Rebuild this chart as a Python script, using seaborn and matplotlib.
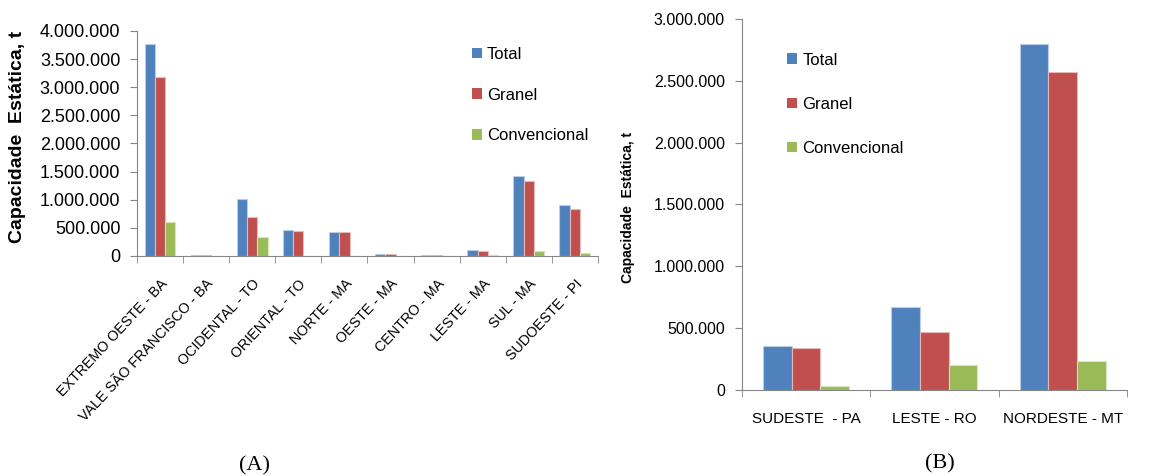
import matplotlib
matplotlib.use("Agg")
import matplotlib.pyplot as plt
import matplotlib.ticker as mticker
import seaborn as sns
import pandas as pd

# panel A data
regions_a = ["EXTREMO OESTE - BA", "VALE SÃO FRANCISCO - BA", "OCIDENTAL - TO",
             "ORIENTAL - TO", "NORTE - MA", "OESTE - MA", "CENTRO - MA",
             "LESTE - MA", "SUL - MA", "SUDOESTE - PI"]
total_a = [3760000, 12000, 1010000, 470000, 420000, 40000, 10000, 112000, 1420000, 910000]
granel_a = [3180000, 10000, 690000, 450000, 420000, 40000, 10000, 89000, 1330000, 830000]
conv_a = [610000, 5000, 340000, 8000, 6000, 5000, 5000, 10000, 95000, 62000]

# panel B data
regions_b = ["SUDESTE  - PA", "LESTE - RO", "NORDESTE - MT"]
total_b = [357000, 673000, 2800000]
granel_b = [335000, 465000, 2570000]
conv_b = [28000, 203000, 235000]

series = ["Total", "Granel", "Convencional"]
colors = ["#4F81BD", "#C0504D", "#9BBB59"]
edges = ["#B9CDE5", "#E6B9B8", "#D7E4BD"]


def to_long(regions, total, granel, conv):
    df = pd.DataFrame({"regiao": regions, "Total": total,
                       "Granel": granel, "Convencional": conv})
    return df.melt(id_vars="regiao", var_name="serie", value_name="cap")


def br_fmt(x, pos):
    return f"{x:,.0f}".replace(",", ".")


plt.rcParams["font.family"] = ["Liberation Sans", "DejaVu Sans"]

fig = plt.figure(figsize=(11.58, 4.76), dpi=100)
ax_a = fig.add_axes([0.1183, 0.4622, 0.3981, 0.4727])
ax_b = fig.add_axes([0.6405, 0.1813, 0.3327, 0.7782])

panels = [
    (ax_a, to_long(regions_a, total_a, granel_a, conv_a), regions_a, 4000000, 13),
    (ax_b, to_long(regions_b, total_b, granel_b, conv_b), regions_b, 3000000, 11.5),
]

for ax, df, regions, ymax, fs in panels:
    sns.barplot(data=df, x="regiao", y="cap", hue="serie", hue_order=series,
                order=regions, palette=colors, width=0.67, ax=ax,
                saturation=1, linewidth=0.8)
    # lighter outline like the original spreadsheet bars
    for cont, ec in zip(ax.containers, edges):
        for p in cont:
            p.set_edgecolor(ec)

    ax.set_ylim(0, ymax)
    ax.set_xlim(-0.5, len(regions) - 0.5)
    ax.yaxis.set_major_locator(mticker.MultipleLocator(500000))
    ax.yaxis.set_major_formatter(mticker.FuncFormatter(br_fmt))
    ax.set_xlabel("")
    ax.set_ylabel("")
    for s in ["top", "right"]:
        ax.spines[s].set_visible(False)
    for s in ["left", "bottom"]:
        ax.spines[s].set_color("#868686")
    ax.tick_params(axis="y", length=5, color="#868686", pad=7, labelsize=fs)
    ax.tick_params(axis="x", which="major", length=0)
    ax.set_xticks([i - 0.5 for i in range(len(regions) + 1)], minor=True)
    ax.tick_params(axis="x", which="minor", length=5, color="#868686")

ax_a.set_xticks(range(len(regions_a)))
ax_a.set_xticklabels(regions_a, rotation=47, ha="right", va="top",
                     rotation_mode="anchor", fontsize=10.3)
ax_a.tick_params(axis="x", which="major", pad=15)

ax_b.set_xticks(range(len(regions_b)))
ax_b.set_xticklabels(regions_b, fontsize=11)
ax_b.tick_params(axis="x", which="major", pad=16)

# legends
ax_a.legend(loc="upper left", bbox_to_anchor=(0.726, 0.93), frameon=False,
            fontsize=12, handlelength=0.6, handleheight=0.6, handletextpad=0.3,
            labelspacing=1.55, borderpad=0, borderaxespad=0)
ax_b.legend(loc="upper left", bbox_to_anchor=(0.118, 0.91), frameon=False,
            fontsize=12, handlelength=0.6, handleheight=0.6, handletextpad=0.3,
            labelspacing=1.75, borderpad=0, borderaxespad=0)

fig.text(18 / 1158, 1 - 137 / 476, "Capacidade  Estática, t", rotation=90,
         ha="center", va="center", fontsize=14, fontweight="bold")
fig.text(628 / 1158, 1 - 207 / 476, "Capacidade  Estática, t", rotation=90,
         ha="center", va="center", fontsize=10, fontweight="bold")

fig.text(255 / 1158, 1 - 466 / 476, "(A)", ha="center", va="center",
         fontsize=16, family=["Liberation Serif", "DejaVu Serif"])
fig.text(940 / 1158, 1 - 464 / 476, "(B)", ha="center", va="center",
         fontsize=16, family=["Liberation Serif", "DejaVu Serif"])

fig.savefig("out.png", dpi=100, facecolor="white")
